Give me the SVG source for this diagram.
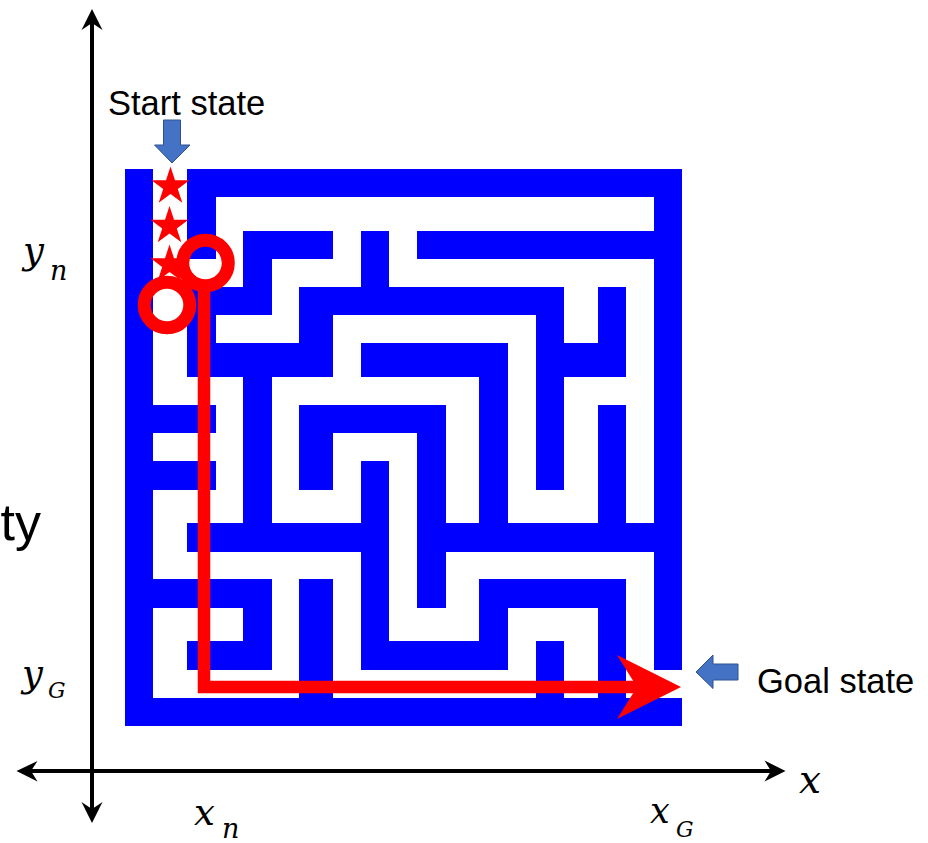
<svg xmlns="http://www.w3.org/2000/svg" width="928" height="843" viewBox="0 0 928 843">
<style>
.w{fill:#0000FF}
.lbl{font-family:"Liberation Sans",Arial,sans-serif;font-size:34.5px;fill:#000}
.math{font-family:"DejaVu Serif","Liberation Serif",serif;font-style:italic;fill:#000}
.axis{stroke:#000;stroke-width:4;fill:none}
.ah{fill:#000}
.callout{fill:#4472C4;stroke:#2F528F;stroke-width:1}
.star{fill:#FF0000}
.ring{fill:none;stroke:#FF0000;stroke-width:13}
</style>
<rect x="0" y="0" width="928" height="843" fill="#fff"/>
<g id="maze">
<!-- r0 -->
<rect class="w" x="125" y="169" width="28" height="28"/>
<rect class="w" x="187" y="169" width="495" height="28"/>
<!-- r1 -->
<rect class="w" x="125" y="197" width="28" height="34"/>
<rect class="w" x="187" y="197" width="29" height="34"/>
<rect class="w" x="654" y="197" width="28" height="34"/>
<!-- r2 -->
<rect class="w" x="125" y="231" width="28" height="28"/>
<rect class="w" x="187" y="231" width="29" height="28"/>
<rect class="w" x="243" y="231" width="90" height="28"/>
<rect class="w" x="361" y="231" width="28" height="28"/>
<rect class="w" x="417" y="231" width="265" height="28"/>
<!-- r3 -->
<rect class="w" x="125" y="259" width="28" height="28"/>
<rect class="w" x="243" y="259" width="29" height="28"/>
<rect class="w" x="361" y="259" width="28" height="28"/>
<rect class="w" x="654" y="259" width="28" height="28"/>
<!-- r4 -->
<rect class="w" x="125" y="287" width="28" height="28"/>
<rect class="w" x="187" y="287" width="85" height="28"/>
<rect class="w" x="299" y="287" width="265" height="28"/>
<rect class="w" x="598" y="287" width="28" height="28"/>
<rect class="w" x="654" y="287" width="28" height="28"/>
<!-- r5 -->
<rect class="w" x="125" y="315" width="28" height="28"/>
<rect class="w" x="187" y="315" width="29" height="28"/>
<rect class="w" x="299" y="315" width="34" height="28"/>
<rect class="w" x="536" y="315" width="28" height="28"/>
<rect class="w" x="598" y="315" width="28" height="28"/>
<rect class="w" x="654" y="315" width="28" height="28"/>
<!-- r6 -->
<rect class="w" x="125" y="343" width="28" height="34"/>
<rect class="w" x="187" y="343" width="146" height="34"/>
<rect class="w" x="361" y="343" width="147" height="34"/>
<rect class="w" x="536" y="343" width="90" height="34"/>
<rect class="w" x="654" y="343" width="28" height="34"/>
<!-- r7 -->
<rect class="w" x="125" y="377" width="28" height="28"/>
<rect class="w" x="243" y="377" width="29" height="28"/>
<rect class="w" x="479" y="377" width="29" height="28"/>
<rect class="w" x="536" y="377" width="28" height="28"/>
<rect class="w" x="654" y="377" width="28" height="28"/>
<!-- r8 -->
<rect class="w" x="125" y="405" width="91" height="28"/>
<rect class="w" x="243" y="405" width="29" height="28"/>
<rect class="w" x="299" y="405" width="147" height="28"/>
<rect class="w" x="479" y="405" width="29" height="28"/>
<rect class="w" x="536" y="405" width="28" height="28"/>
<rect class="w" x="598" y="405" width="28" height="28"/>
<rect class="w" x="654" y="405" width="28" height="28"/>
<!-- r9 -->
<rect class="w" x="125" y="433" width="28" height="28"/>
<rect class="w" x="243" y="433" width="29" height="28"/>
<rect class="w" x="299" y="433" width="34" height="28"/>
<rect class="w" x="417" y="433" width="29" height="28"/>
<rect class="w" x="479" y="433" width="29" height="28"/>
<rect class="w" x="536" y="433" width="28" height="28"/>
<rect class="w" x="598" y="433" width="28" height="28"/>
<rect class="w" x="654" y="433" width="28" height="28"/>
<!-- r10 -->
<rect class="w" x="125" y="461" width="91" height="29"/>
<rect class="w" x="243" y="461" width="29" height="29"/>
<rect class="w" x="299" y="461" width="34" height="29"/>
<rect class="w" x="361" y="461" width="28" height="29"/>
<rect class="w" x="417" y="461" width="29" height="29"/>
<rect class="w" x="479" y="461" width="29" height="29"/>
<rect class="w" x="536" y="461" width="28" height="29"/>
<rect class="w" x="598" y="461" width="28" height="29"/>
<rect class="w" x="654" y="461" width="28" height="29"/>
<!-- r11 -->
<rect class="w" x="125" y="490" width="28" height="33"/>
<rect class="w" x="243" y="490" width="29" height="33"/>
<rect class="w" x="361" y="490" width="28" height="33"/>
<rect class="w" x="417" y="490" width="29" height="33"/>
<rect class="w" x="479" y="490" width="29" height="33"/>
<rect class="w" x="598" y="490" width="28" height="33"/>
<rect class="w" x="654" y="490" width="28" height="33"/>
<!-- r12 -->
<rect class="w" x="125" y="523" width="28" height="29"/>
<rect class="w" x="187" y="523" width="202" height="29"/>
<rect class="w" x="417" y="523" width="265" height="29"/>
<!-- r13 -->
<rect class="w" x="125" y="552" width="28" height="27"/>
<rect class="w" x="361" y="552" width="28" height="27"/>
<rect class="w" x="417" y="552" width="29" height="27"/>
<rect class="w" x="654" y="552" width="28" height="27"/>
<!-- r14 -->
<rect class="w" x="125" y="579" width="147" height="29"/>
<rect class="w" x="299" y="579" width="34" height="29"/>
<rect class="w" x="361" y="579" width="28" height="29"/>
<rect class="w" x="417" y="579" width="29" height="29"/>
<rect class="w" x="479" y="579" width="147" height="29"/>
<rect class="w" x="654" y="579" width="28" height="29"/>
<!-- r15 -->
<rect class="w" x="125" y="608" width="28" height="33"/>
<rect class="w" x="243" y="608" width="29" height="33"/>
<rect class="w" x="299" y="608" width="34" height="33"/>
<rect class="w" x="361" y="608" width="28" height="33"/>
<rect class="w" x="479" y="608" width="29" height="33"/>
<rect class="w" x="598" y="608" width="28" height="33"/>
<rect class="w" x="654" y="608" width="28" height="33"/>
<!-- r16 -->
<rect class="w" x="125" y="641" width="28" height="29"/>
<rect class="w" x="187" y="641" width="85" height="29"/>
<rect class="w" x="299" y="641" width="34" height="29"/>
<rect class="w" x="361" y="641" width="147" height="29"/>
<rect class="w" x="536" y="641" width="28" height="29"/>
<rect class="w" x="598" y="641" width="28" height="29"/>
<rect class="w" x="654" y="641" width="28" height="29"/>
<!-- r17 -->
<rect class="w" x="125" y="670" width="28" height="28"/>
<rect class="w" x="299" y="670" width="34" height="28"/>
<rect class="w" x="536" y="670" width="28" height="28"/>
<rect class="w" x="598" y="670" width="28" height="28"/>
<!-- r18 -->
<rect class="w" x="125" y="698" width="557" height="28"/>
</g>
<g id="axes">
<line class="axis" x1="92" y1="20" x2="92" y2="812"/>
<line class="axis" x1="28" y1="771" x2="775" y2="771"/>
<polygon class="ah" points="92,9 81.5,30 92,23 102.5,30"/>
<polygon class="ah" points="92,823 81.5,802 92,809 102.5,802"/>
<polygon class="ah" points="16.5,771 37.5,761 31,771 37.5,781.5"/>
<polygon class="ah" points="785.5,771 764.5,760.5 771,771 764.5,781.5"/>
</g>
<g id="start-stars">
<polygon class="star" transform="translate(170.5,186.5)" points="0,-20 4.5,-6.2 19,-6.2 7.3,2.4 11.8,16.2 0,7.6 -11.8,16.2 -7.3,2.4 -19,-6.2 -4.5,-6.2"/>
<polygon class="star" transform="translate(169.5,226)" points="0,-20 4.5,-6.2 19,-6.2 7.3,2.4 11.8,16.2 0,7.6 -11.8,16.2 -7.3,2.4 -19,-6.2 -4.5,-6.2"/>
<polygon class="star" transform="translate(169.5,264.5)" points="0,-20 4.5,-6.2 19,-6.2 7.3,2.4 11.8,16.2 0,7.6 -11.8,16.2 -7.3,2.4 -19,-6.2 -4.5,-6.2"/>
</g>
<g id="path">
<polyline points="204,288 204,687 640,687" fill="none" stroke="#FF0000" stroke-width="12.5" stroke-linejoin="miter"/>
<polygon points="617,655 681,687 617,719 637,687" fill="#FF0000"/>
</g>
<g id="rings">
<circle class="ring" cx="205.5" cy="263" r="22.8"/>
<circle class="ring" cx="167" cy="305" r="22.8"/>
</g>
<g id="start-label">
<text class="lbl" x="108" y="115">Start state</text>
<polygon class="callout" points="163.5,120 180.5,120 180.5,145 190,145 172,163 154.5,145 163.5,145"/>
</g>
<g id="goal-label">
<polygon class="callout" points="738,664 713,664 713,655 696,672 713,688.5 713,680 738,680"/>
<text class="lbl" x="757" y="693">Goal state</text>
</g>
<g id="labels">
<text x="41" y="540" text-anchor="end" style="font-family:'Liberation Sans',Arial,sans-serif;font-size:52px">ty</text>
<text class="math" style="font-size:37px"><tspan x="23" y="263">y</tspan><tspan x="50" y="280" style="font-size:27px">n</tspan></text>
<text class="math" style="font-size:37px"><tspan x="22" y="686">y</tspan><tspan x="48" y="698" style="font-size:22px">G</tspan></text>
<text class="math" style="font-size:37px"><tspan x="194" y="825">x</tspan><tspan x="222" y="838" style="font-size:27px">n</tspan></text>
<text class="math" style="font-size:35px"><tspan x="650" y="823">x</tspan><tspan x="676" y="837" style="font-size:22px">G</tspan></text>
<text class="math" x="799" y="793" style="font-size:39px">x</text>
</g>
</svg>
